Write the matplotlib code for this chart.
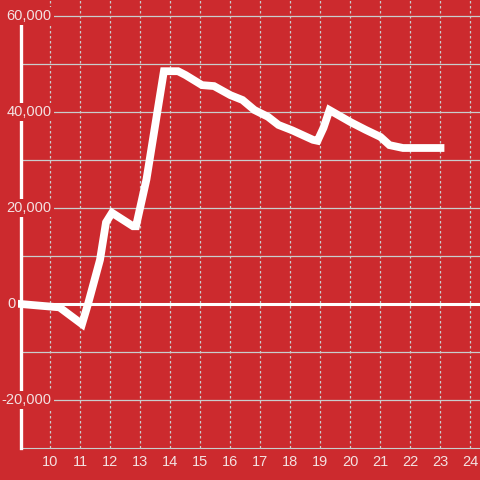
import matplotlib
matplotlib.use("Agg")
import matplotlib.pyplot as plt

# Data
hours = [9.0, 10.3, 11.05, 11.25, 11.65, 11.85, 12.05, 12.75, 12.85, 13.2, 13.78,
         14.25, 14.5, 15.05, 15.45, 16.0, 16.4, 16.8, 17.25, 17.6, 18.05, 18.4,
         18.75, 18.9, 19.1, 19.3, 20.0, 20.5, 21.0, 21.3, 21.75, 23.0]
values = [0, -700, -4200, 0, 9200, 17000, 19000, 16200, 16200, 26000, 48500,
          48500, 47700, 45600, 45400, 43500, 42500, 40400, 39000, 37300, 36200, 35200,
          34200, 34000, 36700, 40400, 37900, 36300, 34800, 33100, 32500, 32500]
x_ticks = list(range(10, 25))
y_ticks = [60000, 40000, 20000, 0, -20000]
y_tick_labels = ["60,000", "40,000", "20,000", "0", "-20,000"]

BG = "#cc2a2e"
GRID = "#c9cdcd"
TXT = "#f3e1e1"

W, H = 480, 480
fig = plt.figure(figsize=(4.8, 4.8), dpi=100, facecolor=BG)
ax = fig.add_axes([21 / W, (H - 448) / H, (480 - 21) / W, 448 / H], facecolor=BG)

# scale: 0 at y=304 px, 20000 per 96px
ytop = 304 * 20000 / 96
ax.set_ylim(-30000, ytop)
xleft = 10 + (21 - 50.5) / 30
xright = 10 + (480 - 50.5) / 30
ax.set_xlim(xleft, xright)

for s in ["top", "right"]:
    ax.spines[s].set_visible(False)
ax.spines["bottom"].set_color(GRID)
ax.spines["bottom"].set_linewidth(0.8)
ax.spines["left"].set_color("white")
ax.spines["left"].set_linewidth(2.4)
ax.spines["left"].set_bounds(-30000, 58300)
ax.spines["left"].set_zorder(4)

# horizontal grid every 10000
for v in range(-20000, 60001, 10000):
    if v == 0:
        continue
    ax.axhline(v, color=GRID, lw=0.9, zorder=1)
# vertical dotted grid
for xv in x_ticks:
    ax.axvline(xv, color=GRID, lw=0.9, ls=(0, (2, 2)), zorder=1)

ax.axhline(0, color="white", lw=2.2, zorder=2)

ax.plot(hours, values, color="white", lw=5.6, solid_capstyle="projecting",
        solid_joinstyle="miter", zorder=3, clip_on=False)

ax.set_xticks(x_ticks)
ax.set_xticklabels([str(t) for t in x_ticks])
ax.tick_params(axis="x", length=0, pad=5, colors=TXT, labelsize=10.5)
ax.set_yticks([])
for lab in ax.get_xticklabels():
    lab.set_fontfamily("Liberation Sans")

# y labels with background boxes
for v, lab in zip(y_ticks, y_tick_labels):
    xp = 51.5 if v != 0 else 15.5
    ax.annotate(lab, xy=(xp / W, v), xycoords=("figure fraction", "data"),
                ha="right", va="center", color=TXT, fontsize=10.5,
                family="Liberation Sans", zorder=6, annotation_clip=False,
                bbox=dict(boxstyle="square,pad=0.15", fc=BG, ec="none"))

fig.savefig("out.png", dpi=100, facecolor=BG)
